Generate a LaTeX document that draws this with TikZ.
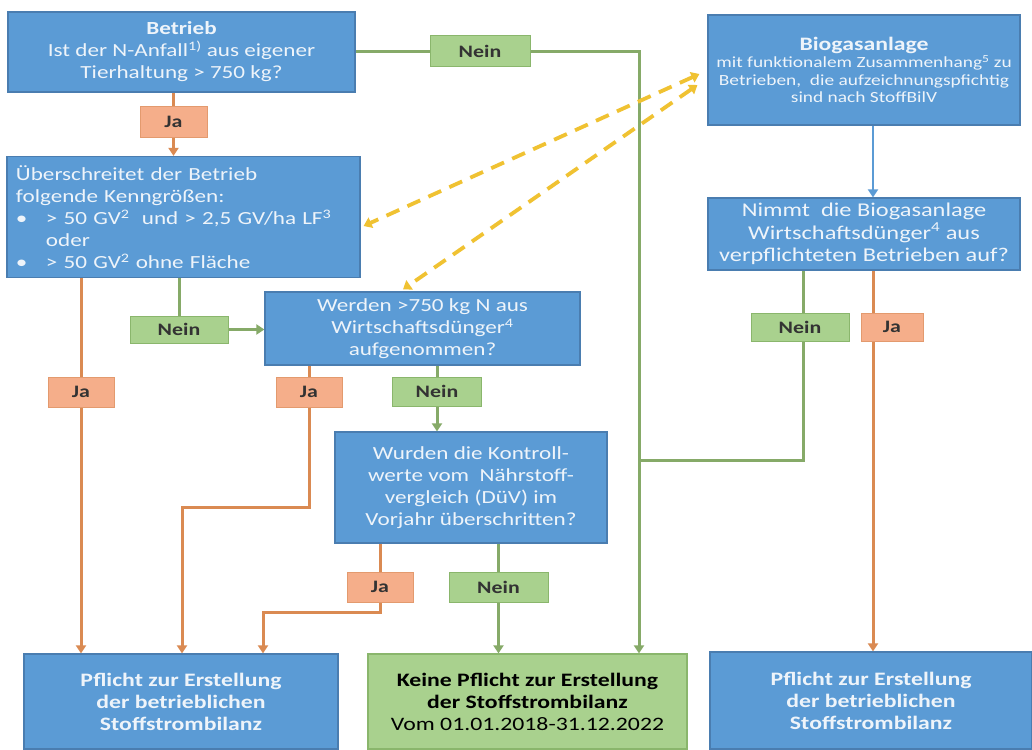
\documentclass[tikz,border=0pt]{standalone}
\usepackage{fontspec}
\setmainfont{Carlito}[FakeStretch=1.25]
\usetikzlibrary{arrows.meta,backgrounds,calc}
\definecolor{bfill}{HTML}{5B9BD5}
\definecolor{bdraw}{HTML}{4A7DB0}
\definecolor{gfill}{HTML}{A9D18E}
\definecolor{gdraw}{HTML}{8AB66C}
\definecolor{ofill}{HTML}{F5AE8A}
\definecolor{odraw}{HTML}{E39A6E}
\definecolor{oline}{HTML}{DA8A52}
\definecolor{gline}{HTML}{86AA68}
\definecolor{yline}{HTML}{F0C232}
\definecolor{btext}{HTML}{EEF4FA}
\begin{document}
\begin{tikzpicture}[x=1pt,y=-1pt,
  bluebox/.style={draw=bdraw,line width=1.2pt,fill=bfill,text=btext,align=center,inner sep=4pt,font=\fontsize{18.5}{22}\selectfont},
  greenbox/.style={draw=gdraw,line width=1.2pt,fill=gfill,text=black,align=center,inner sep=4pt},
  nein/.style={draw=gdraw,line width=1pt,fill=gfill,text=black!80,font=\fontsize{17.5}{20}\selectfont\bfseries,inner sep=0pt},
  ja/.style={draw=odraw,line width=1pt,fill=ofill,text=black!80,font=\fontsize{17.5}{20}\selectfont\bfseries,inner sep=0pt},
  oarrow/.style={draw=oline,line width=3pt,-{Triangle[width=10pt,length=8pt]}},
  oconn/.style={draw=oline,line width=3pt},
  garrow/.style={draw=gline,line width=3pt,-{Triangle[width=10pt,length=8pt]}},
  gconn/.style={draw=gline,line width=3pt},
  barrow/.style={draw=bfill,line width=2.5pt,-{Triangle[width=10pt,length=8pt]}},
  yarrow/.style={draw=yline,line width=3.8pt,dash pattern=on 14pt off 9pt,{Triangle[width=11pt,length=8pt]}-{Triangle[width=11pt,length=8pt]}}
]
\useasboundingbox (0,0) rectangle (1032,749);

% boxes
\node[bluebox,minimum width=347,minimum height=80] (b1) at (181.5,52)
  {\textbf{Betrieb}\\Ist der N-Anfall\textsuperscript{1)} aus eigener\\Tierhaltung > 750 kg?};
\node[bluebox,minimum width=353,minimum height=120,align=left,text width=335,inner sep=9pt] (b2) at (183.5,217)
  {Überschreitet der Betrieb\\folgende Kenngrößen:\\
   \makebox[30pt][l]{\textbullet}> 50 GV\textsuperscript{2}\ \ und > 2,5 GV/ha LF\textsuperscript{3}\\
   \makebox[30pt][l]{}oder\\
   \makebox[30pt][l]{\textbullet}> 50 GV\textsuperscript{2} ohne Fläche};
\node[bluebox,minimum width=315,minimum height=73] (b3) at (422.5,328.5)
  {Werden >750 kg N aus\\Wirtschaftsdünger\textsuperscript{4}\\aufgenommen?};
\node[bluebox,minimum width=272,minimum height=111] (b4) at (471,487.5)
  {Wurden die Kontroll-\\werte vom\ \ Nährstoff-\\vergleich (DüV) im\\Vorjahr überschritten?};
\node[bluebox,minimum width=312,minimum height=110,font=\fontsize{15.5}{17.5}\selectfont] (b5) at (864,70)
  {{\fontsize{19}{22}\selectfont\textbf{Biogasanlage}}\\mit funktionalem Zusammenhang\textsuperscript{5} zu\\Betrieben,\ \ die aufzeichnungspfichtig\\sind nach StoffBilV};
\node[bluebox,minimum width=312,minimum height=72,font=\fontsize{19.5}{22.5}\selectfont] (b6) at (864,234)
  {Nimmt\ \ die Biogasanlage\\Wirtschaftsdünger\textsuperscript{4} aus\\verpflichteten Betrieben auf?};
\node[bluebox,minimum width=314,minimum height=95,font=\fontsize{19}{22}\selectfont\bfseries] (r1) at (181,701.5)
  {Pflicht zur Erstellung\\der betrieblichen\\Stoffstrombilanz};
\node[greenbox,minimum width=319,minimum height=95,font=\fontsize{19}{22}\selectfont] (r2) at (527.5,701.5)
  {\textbf{Keine Pflicht zur Erstellung}\\\textbf{der Stoffstrombilanz}\\Vom 01.01.2018-31.12.2022};
\node[bluebox,minimum width=322,minimum height=97,font=\fontsize{19}{22}\selectfont\bfseries] (r3) at (871,700.5)
  {Pflicht zur Erstellung\\der betrieblichen\\Stoffstrombilanz};

% labels
\node[ja,minimum width=67,minimum height=30] (ja1) at (173.5,122) {Ja};
\node[nein,minimum width=100,minimum height=31] (nein1) at (480,51) {Nein};
\node[ja,minimum width=66,minimum height=30] (ja2) at (81,392) {Ja};
\node[nein,minimum width=98,minimum height=27] (nein2) at (179,329.5) {Nein};
\node[ja,minimum width=66,minimum height=30] (ja3) at (309,392) {Ja};
\node[nein,minimum width=89,minimum height=29] (nein3) at (437,391.5) {Nein};
\node[ja,minimum width=66,minimum height=30] (ja4) at (380,587) {Ja};
\node[nein,minimum width=99,minimum height=30] (nein4) at (498.5,587) {Nein};
\node[nein,minimum width=98,minimum height=28] (nein5) at (800,327) {Nein};
\node[ja,minimum width=62,minimum height=28] (ja5) at (892,327) {Ja};

% helper coordinates
\coordinate (cG) at (639,0);
\coordinate (cN5) at (803,460);
\coordinate (cJ5) at (873,0);
\coordinate (cJ3) at (182,507);
\coordinate (cJ4) at (263,612);
\coordinate (cY) at (403,0);

\begin{pgfonlayer}{background}
\fill[white] (0,0) rectangle (1032,749);
% orange
\draw[oarrow] (b1.south -| ja1) -- (b2.north -| ja1);
\draw[oarrow] (b2.south -| ja2) -- (r1.north -| ja2);
\draw[oarrow] (b3.south -| ja3) -- (ja3 |- cJ3) -- (cJ3) -- (r1.north -| cJ3);
\draw[oarrow] (b4.south -| ja4) -- (ja4 |- cJ4) -- (cJ4) -- (r1.north -| cJ4);
\draw[oarrow] (b6.south -| cJ5) -- (r3.north -| cJ5);
% green
\draw[garrow] (b1.east) -- (b1.east -| cG) -- (r2.north -| cG);
\draw[gconn] (b6.south -| cN5) -- (cN5) -- (cN5 -| cG);
\draw[gconn] (b2.south -| nein2) -- (nein2.north);
\draw[garrow] (nein2.east) -- (nein2.east -| b3.west);
\draw[garrow] (b3.south -| nein3) -- (b4.north -| nein3);
\draw[garrow] (b4.south -| nein4) -- (r2.north -| nein4);
% blue
\draw[barrow] (b5.south -| cJ5) -- (b6.north -| cJ5);
\end{pgfonlayer}
% yellow dashed
\draw[yarrow] ([xshift=-8pt,yshift=-4pt]b5.west) -- ([xshift=3pt,yshift=-9pt]b2.east);
\draw[yarrow] ([xshift=-10pt,yshift=-15pt]b5.west) -- ([yshift=2pt]b3.north -| cY);
\end{tikzpicture}
\end{document}
